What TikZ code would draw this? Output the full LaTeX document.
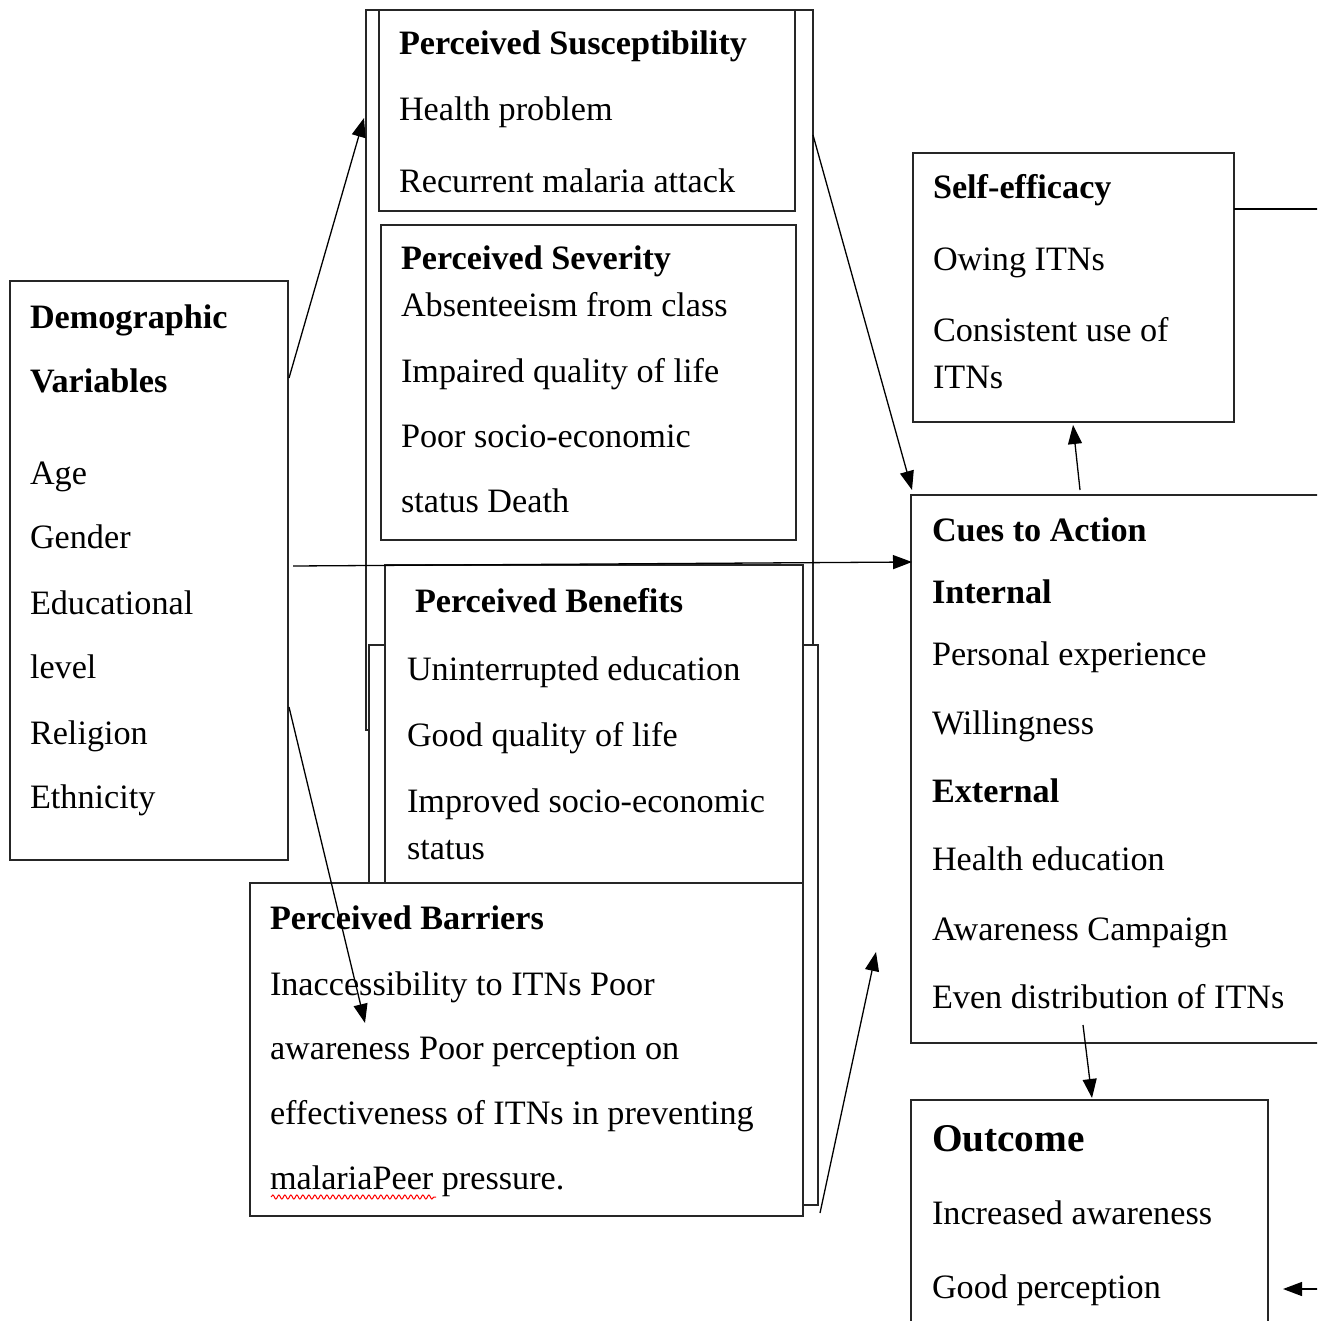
\documentclass[tikz,border=0pt]{standalone}
\usepackage{fontspec}
\setmainfont{Liberation Serif}
\usetikzlibrary{arrows.meta,calc,decorations.pathmorphing}
\tikzset{
  box/.style={draw=black!85, line width=1.6pt, fill=white, inner sep=0pt, outer sep=0pt, anchor=north west},
  txt/.style={anchor=base west, inner sep=0pt, outer sep=0pt, font=\fontsize{34.2pt}{40pt}\selectfont},
  hdr/.style={txt, font=\fontsize{34.2pt}{40pt}\selectfont\bfseries},
  bighdr/.style={txt, font=\fontsize{39.3pt}{46pt}\selectfont\bfseries},
  conn/.style={draw=black, line width=1.3pt, -{Triangle[length=19pt,width=14pt]}},
  plain/.style={draw=black, line width=1.3pt},
  squiggle/.style={draw=red, line width=1pt, decorate, decoration={snake, amplitude=2pt, segment length=6pt}}
}
\begin{document}
\begin{tikzpicture}[x=1pt,y=-1pt]
\clip (0,0) rectangle (1317,1321);
\fill[white] (0,0) rectangle (1317,1321);

% frames and boxes
\node[box, minimum width=447pt, minimum height=720pt] (frameA) at (366,10) {};
\node[box, minimum width=449pt, minimum height=560pt] (frameB) at (369,645) {};
\node[box, minimum width=416pt, minimum height=201pt] (susc) at (379,10) {};
\node[box, minimum width=415pt, minimum height=315pt] (sev) at (381,225) {};
\node[box, minimum width=418pt, minimum height=318pt] (ben) at (385,565) {};
\node[box, minimum width=553pt, minimum height=333pt] (bar) at (250,883) {};
\node[box, minimum width=278pt, minimum height=579pt] (demo) at (10,281) {};
\node[box, minimum width=321pt, minimum height=269pt] (self) at (913,153) {};
\node[box, minimum width=429pt, minimum height=548pt] (cues) at (911,495) {};
\node[box, minimum width=357pt, minimum height=260pt] (outc) at (911,1100) {};

% Perceived Susceptibility
\node[hdr] (s0) at (399,55) {Perceived Susceptibility};
\node[txt] (s1) at (399,121) {Health problem};
\node[txt] (s2) at (399,193) {Recurrent malaria attack};

% Perceived Severity
\node[hdr] (v0) at (401,269.5) {Perceived Severity};
\node[txt] (v1) at (401,316.5) {Absenteeism from class};
\node[txt] (v2) at (401,382.5) {Impaired quality of life};
\node[txt] (v3) at (401,447.5) {Poor socio-economic};
\node[txt] (v4) at (401,512.5) {status Death};

% Perceived Benefits
\node[hdr] (b0) at (415,612.5) {Perceived Benefits};
\node[txt] (b1) at (407,680.5) {Uninterrupted education};
\node[txt] (b2) at (407,746.5) {Good quality of life};
\node[txt] (b3) at (407,812.5) {Improved socio-economic};
\node[txt] (b4) at (407,859.5) {status};

% Perceived Barriers
\node[hdr] (r0) at (270,929.5) {Perceived Barriers};
\node[txt] (r1) at (270,995.5) {Inaccessibility to ITNs Poor};
\node[txt] (r2) at (270,1059.5) {awareness Poor perception on};
\node[txt] (r3) at (270,1124.5) {effectiveness of ITNs in preventing};
\node[txt] (r4) at (270,1189.5) {malariaPeer pressure.};
\coordinate (sqA) at (271,1197);
\coordinate (sqB) at (436,1197);
\path[squiggle] (sqA) -- (sqB);

% Demographic Variables
\node[hdr] (d0) at (30,328.5) {Demographic};
\node[hdr] (d1) at (30,392.5) {Variables};
\node[txt] (d2) at (30,484.5) {Age};
\node[txt] (d3) at (30,548.5) {Gender};
\node[txt] (d4) at (30,614.5) {Educational};
\node[txt] (d5) at (30,678.5) {level};
\node[txt] (d6) at (30,744.5) {Religion};
\node[txt] (d7) at (30,808.5) {Ethnicity};

% Self-efficacy
\node[hdr] (e0) at (933,198.5) {Self-efficacy};
\node[txt] (e1) at (933,270.5) {Owing ITNs};
\node[txt] (e2) at (933,341.5) {Consistent use of};
\node[txt] (e3) at (933,388.5) {ITNs};

% Cues to Action
\node[hdr] (c0) at (932,541.5) {Cues to Action};
\node[hdr] (c1) at (932,603.5) {Internal};
\node[txt] (c2) at (932,665.5) {Personal experience};
\node[txt] (c3) at (932,734.5) {Willingness};
\node[hdr] (c4) at (932,802.5) {External};
\node[txt] (c5) at (932,870.5) {Health education};
\node[txt] (c6) at (932,940.5) {Awareness Campaign};
\node[txt] (c7) at (932,1008.5) {Even distribution of ITNs};

% Outcome
\node[bighdr] (o0) at (932,1151) {Outcome};
\node[txt] (o1) at (932,1224.5) {Increased awareness};
\node[txt] (o2) at (932,1298.5) {Good perception};

% connector end points
\coordinate (a1s) at ($(demo.north east)+(1,97)$);
\coordinate (a1e) at ($(frameA.north west)+(-2,108)$);
\coordinate (a2s) at ($(demo.north east)+(1,426)$);
\coordinate (a2e) at ($(bar.north west)+(115,140)$);
\coordinate (a3s) at ($(demo.north east)+(5,285)$);
\coordinate (a3e) at ($(cues.north west)+(1,67)$);
\coordinate (a4s) at ($(frameA.north east)+(0,125)$);
\coordinate (a4e) at ($(cues.north west)+(1,-5)$);
\coordinate (a5s) at ($(cues.north west)+(169,-5)$);
\coordinate (a5e) at ($(self.south west)+(160,3)$);
\coordinate (a6s) at ($(cues.south west)+(172,-18)$);
\coordinate (a6e) at ($(outc.north west)+(181,-2)$);
\coordinate (a7s) at ($(frameB.south east)+(2,8)$);
\coordinate (a7e) at (876,952);
\coordinate (a8s) at (1330,1289);
\coordinate (a8e) at ($(outc.north east)+(15,189)$);
\coordinate (a9s) at ($(self.north east)+(0,56)$);
\coordinate (a9e) at (1330,209);

% connectors
\draw[conn] (a1s) -- (a1e);
\draw[conn] (a2s) -- (a2e);
\draw[conn] (a3s) -- (a3e);
\draw[conn] (a4s) -- (a4e);
\draw[conn] (a5s) -- (a5e);
\draw[conn] (a6s) -- (a6e);
\draw[conn] (a7s) -- (a7e);
\draw[conn] (a8s) -- (a8e);
\draw[plain] (a9s) -- (a9e);
\end{tikzpicture}
\end{document}
